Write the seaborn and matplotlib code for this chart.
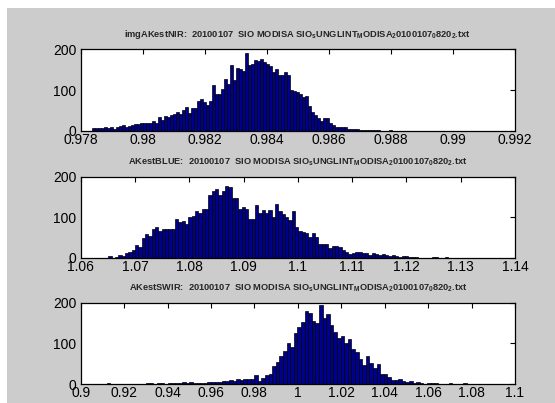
import numpy as np
import pandas as pd
import matplotlib
matplotlib.use("Agg")
import matplotlib.pyplot as plt
from matplotlib.patches import Rectangle
import seaborn as sns

# Histogram counts per bin for each estimate
nir_counts = [6, 6, 7, 7, 10, 7, 9, 3, 8, 12, 13, 8, 12, 13, 16, 17, 19, 19, 19, 18,
              24, 20, 33, 26, 36, 33, 38, 40, 46, 42, 52, 59, 43, 56, 56, 72, 78, 70, 62, 72,
              112, 90, 90, 103, 127, 115, 162, 125, 155, 152, 147, 191, 162, 163, 174, 172, 177, 170, 165, 160,
              143, 152, 136, 137, 144, 137, 100, 98, 96, 90, 82, 86, 60, 45, 38, 30, 25, 30, 30, 20,
              15, 10, 8, 8, 10, 5, 5, 4, 3, 2, 2, 2, 1, 1, 2, 1, 0, 0, 0, 2]
nir_range = (0.978376, 0.98805)

blue_counts = [5, 0, 2, 7, 3, 12, 13, 18, 32, 27, 48, 58, 54, 72, 75, 65, 70, 70, 70, 70,
               95, 87, 90, 83, 100, 102, 115, 110, 120, 120, 155, 165, 170, 155, 165, 178, 175, 148, 148, 120,
               125, 120, 95, 95, 130, 110, 117, 110, 118, 100, 132, 115, 107, 100, 92, 115, 75, 67, 64, 60,
               52, 62, 50, 34, 33, 35, 25, 30, 28, 27, 20, 15, 10, 12, 15, 13, 12, 11, 7, 11,
               10, 7, 8, 6, 5, 6, 4, 2, 4, 3, 2, 2, 1, 0, 0, 0, 0, 2, 2, 0, 0, 2]
blue_range = (1.0651, 1.1277)

swir_counts = [2, 0, 0, 0, 0, 0, 0, 0, 0, 0, 0, 2, 2, 1, 2, 2, 1, 2, 3, 3,
               3, 4, 3, 4, 2, 2, 3, 2, 6, 5, 6, 5, 7, 8, 10, 8, 12, 10, 12, 12,
               12, 22, 8, 15, 22, 25, 45, 55, 68, 80, 102, 92, 126, 140, 152, 180, 175, 155, 150, 195,
               163, 173, 145, 127, 112, 118, 100, 110, 85, 78, 62, 47, 68, 52, 40, 48, 25, 24, 18, 10,
               10, 12, 8, 5, 7, 3, 4, 2, 0, 3, 2, 2, 0, 0, 0, 2, 0, 0, 0, 2]
swir_range = (0.91197, 1.0777)

titles = [
    r"imgAKestNIR:  20100107  SIO MODISA SIO$_{\mathbf{s}}$UNGLINT$_{\mathbf{M}}$ODISA$_{\mathbf{2}}$0100107$_{\mathbf{0}}$820$_{\mathbf{2}}$.txt",
    r"AKestBLUE:  20100107  SIO MODISA SIO$_{\mathbf{s}}$UNGLINT$_{\mathbf{M}}$ODISA$_{\mathbf{2}}$0100107$_{\mathbf{0}}$820$_{\mathbf{2}}$.txt",
    r"AKestSWIR:  20100107  SIO MODISA SIO$_{\mathbf{s}}$UNGLINT$_{\mathbf{M}}$ODISA$_{\mathbf{2}}$0100107$_{\mathbf{0}}$820$_{\mathbf{2}}$.txt",
]
x_limits = [(0.978, 0.992), (1.06, 1.14), (0.9, 1.1)]
x_ticks = [
    [0.978, 0.98, 0.982, 0.984, 0.986, 0.988, 0.99, 0.992],
    [1.06, 1.07, 1.08, 1.09, 1.1, 1.11, 1.12, 1.13, 1.14],
    [0.9, 0.92, 0.94, 0.96, 0.98, 1, 1.02, 1.04, 1.06, 1.08, 1.1],
]
x_ticklabels = [
    ["0.978", "0.98", "0.982", "0.984", "0.986", "0.988", "0.99", "0.992"],
    ["1.06", "1.07", "1.08", "1.09", "1.1", "1.11", "1.12", "1.13", "1.14"],
    ["0.9", "0.92", "0.94", "0.96", "0.98", "1", "1.02", "1.04", "1.06", "1.08", "1.1"],
]
y_ticks = [0, 100, 200]

sns.set_style("white")
plt.rcParams["font.family"] = ["Liberation Sans", "DejaVu Sans"]
plt.rcParams["mathtext.fontset"] = "custom"
plt.rcParams["mathtext.bf"] = "Liberation Sans:bold"
plt.rcParams["mathtext.rm"] = "Liberation Sans"

W, H = 555, 403
fig = plt.figure(figsize=(W / 100, H / 100), dpi=100, facecolor="white")
# grey window area behind the axes
fig.patches.append(Rectangle((7 / W, 0), 1 - 7 / W, 1 - 8 / H, transform=fig.transFigure,
                             facecolor="#cccccc", edgecolor="none", zorder=-10))

panels = [(nir_counts, nir_range), (blue_counts, blue_range), (swir_counts, swir_range)]
positions = [(80.7, 49.3, 515, 130.7), (80.7, 176.7, 515, 257.7), (80.7, 302.7, 515, 384)]

for i, ((counts, (lo, hi)), (l, t, r, b)) in enumerate(zip(panels, positions)):
    ax = fig.add_axes([l / W, 1 - b / H, (r - l) / W, (b - t) / H])
    ax.set_facecolor("white")
    edges = np.linspace(lo, hi, len(counts) + 1)
    centers = (edges[:-1] + edges[1:]) / 2
    df = pd.DataFrame({"value": centers, "count": np.asarray(counts, dtype=float)})
    sns.histplot(data=df, x="value", weights="count", bins=len(counts), binrange=(lo, hi),
                 ax=ax, color="#00008f", edgecolor="black", linewidth=0.5, alpha=1.0)
    ax.set_xlim(*x_limits[i])
    ax.set_ylim(0, 200)
    ax.set_xticks(x_ticks[i])
    ax.set_xticklabels(x_ticklabels[i])
    ax.set_yticks(y_ticks)
    ax.set_xlabel("")
    ax.set_ylabel("")
    ax.tick_params(direction="in", top=True, right=True, length=3.5, width=0.8,
                   labelsize=10, pad=1.5, colors="black")
    ax.tick_params(axis="y", pad=3)
    for s in ax.spines.values():
        s.set_visible(True)
        s.set_color("black")
        s.set_linewidth(0.9)
    ax.set_title(titles[i], fontsize=6.7, fontweight="bold", pad=9)

fig.savefig("out.png", dpi=100, facecolor=fig.get_facecolor())
